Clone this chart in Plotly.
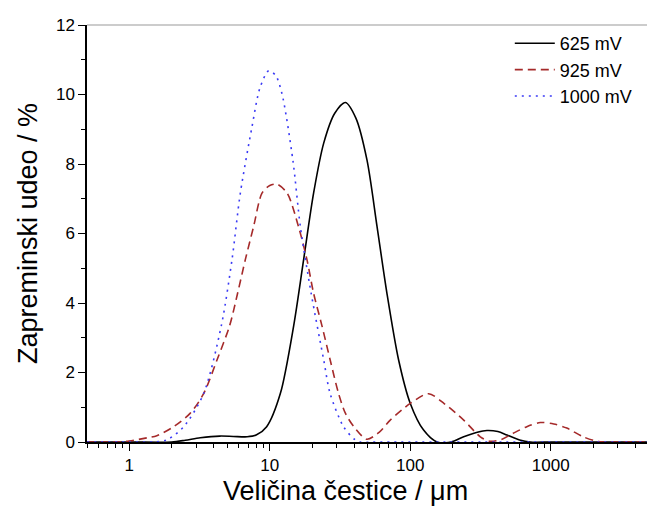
import numpy as np
import plotly.graph_objects as go

# ---- data ----
x_625 = [0.5, 1, 2.0, 2.5, 3.2, 4.4, 5.5, 6.9, 8.0, 9.5, 11.9, 14.8, 17.4, 20.5, 24.2, 29, 34.5,
         41, 49.2, 58, 68.2, 82.6, 100, 124, 155, 195, 240, 300, 351, 420, 488, 600, 715, 1000, 5000]
y_625 = [0, 0, 0, 0.05, 0.12, 0.17, 0.16, 0.15, 0.2, 0.44, 1.4, 3.35, 5.24, 7.16, 8.6, 9.46, 9.77,
         9.32, 8.11, 6.2, 4.28, 2.36, 1.11, 0.35, 0.0, 0.0, 0.15, 0.28, 0.33, 0.3, 0.2, 0.06, 0, 0, 0]

x_925 = [0.5, 0.8, 1.0, 1.34, 1.57, 2.07, 2.72, 3.38, 4.21, 5.18, 5.9, 6.69, 7.67, 8.8, 10, 11.25,
         13.3, 16.0, 18.4, 20.5, 23.5, 26.9, 30.9, 34.5, 40, 49, 60, 72, 100, 135, 175, 240, 315,
         370, 450, 540, 675, 842, 1050, 1300, 1700, 2140, 2500, 5000]
y_925 = [0, 0, 0.03, 0.12, 0.18, 0.44, 0.83, 1.39, 2.36, 3.35, 4.28, 5.24, 6.2, 7.16, 7.38, 7.42,
         7.16, 6.2, 5.24, 4.28, 3.35, 2.36, 1.39, 0.83, 0.42, 0.08, 0.28, 0.63, 1.11, 1.39, 1.1, 0.63, 0.15,
         0.02, 0.08, 0.25, 0.44, 0.56, 0.52, 0.4, 0.15, 0.02, 0, 0]

x_1000 = [0.5, 1.0, 1.5, 1.85, 2.44, 3.38, 4.52, 5.38, 6.17, 7.47, 8.5, 9.8, 11, 12.2, 14.6, 16.5,
          19.7, 24.2, 26.9, 33.5, 40, 44, 60, 5000]
y_1000 = [0, 0, 0.0, 0.06, 0.44, 1.39, 3.35, 5.24, 7.16, 9.07, 10.18, 10.68, 10.55, 10.03, 8.11, 6.2,
          4.28, 2.36, 1.39, 0.44, 0.08, 0, 0, 0]

names = ["625 mV", "925 mV", "1000 mV"]
x_ticks = [1, 10, 100, 1000]
x_title = "Veličina čestice / μm"
y_title = "Zapreminski udeo / %"

colors = ["#000000", "#A52A2A", "#3A3AF5"]
dashes = ["solid", "8px,5px", "2px,5px"]

FONT = "Liberation Sans, Arial, sans-serif"

fig = go.Figure()
for xs, ys, nm, c, d in zip([x_625, x_925, x_1000], [y_625, y_925, y_1000], names, colors, dashes):
    fig.add_trace(go.Scatter(x=xs, y=ys, name=nm, mode="lines",
                             line=dict(color=c, width=1.6, dash=d, shape="spline", smoothing=0.8)))

fig.update_layout(
    width=647, height=510,
    margin=dict(l=87, r=0, t=25, b=68, autoexpand=False),
    paper_bgcolor="white", plot_bgcolor="white",
    font=dict(family=FONT, color="black"),
    showlegend=True,
    legend=dict(x=0.755, y=1.0, xanchor="left", yanchor="top",
                font=dict(size=18, family=FONT), bgcolor="rgba(0,0,0,0)",
                tracegroupgap=0, itemwidth=40),
)

fig.update_xaxes(
    type="log", range=[np.log10(0.5), np.log10(4840)],
    tickvals=x_ticks, ticktext=[str(v) for v in x_ticks],
    ticks="outside", ticklen=7, tickwidth=1.3, tickcolor="black",
    showline=True, linecolor="black", linewidth=1.5,
    showgrid=False, zeroline=False,
    tickfont=dict(size=17, family=FONT),
    minor=dict(ticks="outside", ticklen=4, tickwidth=1.2, tickcolor="black", dtick="D1", showgrid=False),
)
fig.update_yaxes(
    range=[0, 12], dtick=2,
    ticks="outside", ticklen=7, tickwidth=1.3, tickcolor="black",
    showline=True, linecolor="black", linewidth=1.5,
    showgrid=False, zeroline=False,
    tickfont=dict(size=17, family=FONT),
    minor=dict(ticks="outside", ticklen=4, tickwidth=1.2, tickcolor="black", dtick=1, showgrid=False),
    title=dict(text=y_title, font=dict(size=27, family=FONT), standoff=10),
)

# x-axis title (placed as in the reference, slightly left of plot centre)
fig.add_annotation(text=x_title, xref="paper", yref="paper",
                   x=(345 - 87) / 560, y=-0.118, xanchor="center", yanchor="middle",
                   showarrow=False, font=dict(size=27, family=FONT, color="black"))

fig.add_shape(type="line", xref="paper", yref="paper", x0=0, x1=1, y0=1, y1=1,
              line=dict(color="#999999", width=1.2))

fig.write_html("out.html", config={"displayModeBar": False},
               post_script="document.body.style.margin='0';document.body.style.overflow='hidden';")
